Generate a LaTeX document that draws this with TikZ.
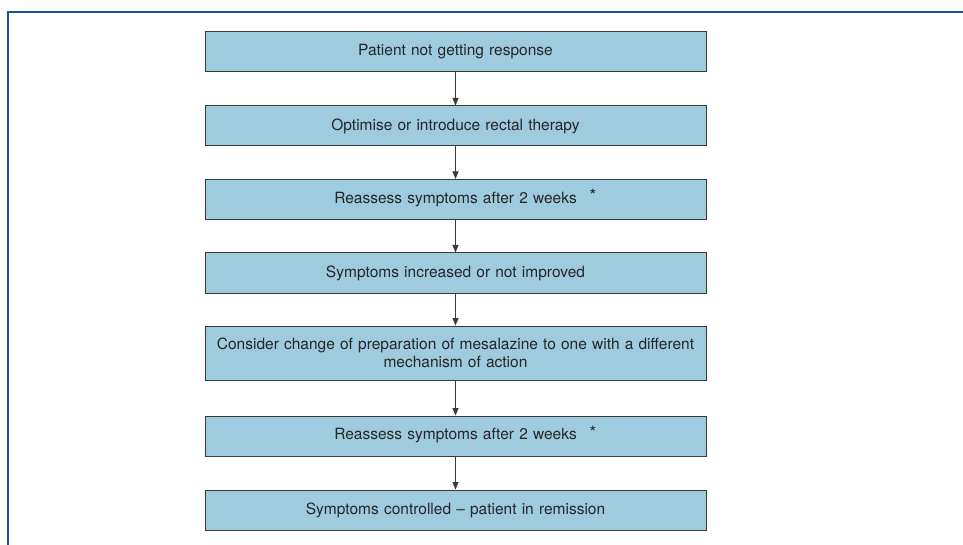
\documentclass[tikz,border=0pt]{standalone}
\usepackage{fontspec}
\setmainfont{TeX Gyre Heros}
\usetikzlibrary{arrows.meta,positioning}
\definecolor{boxfill}{HTML}{9ECBDD}
\definecolor{boxline}{HTML}{3A3A3A}
\definecolor{framecol}{HTML}{1F4FA0}
\tikzset{
  stepbox/.style={draw=boxline, line width=1pt, fill=boxfill,
                  minimum width=501pt, minimum height=40pt, inner sep=1pt,
                  text width=499pt, align=center, font=\fontsize{15.5pt}{18pt}\selectfont,
                  text=black!85},
  nxt/.style    ={-{Triangle[length=7.5pt, width=6pt]}, line width=0.9pt, boxline},
  ast/.style    ={font=\fontsize{17pt}{17pt}\selectfont, text=black!85, inner sep=0pt},
}
\begin{document}
\begin{tikzpicture}[x=1pt, y=-1pt]
  \useasboundingbox (0,0) rectangle (963,545);
  \draw[framecol, line width=1.4pt] (8,545) -- (8,12) -- (963,12);
  \node[stepbox] (resp) at (455.5,52) {Patient not getting response};
  \node[stepbox] (rect) at (455.5,126) {Optimise or introduce rectal therapy};
  \node[stepbox] (ra) at (455.5,199.5) {Reassess symptoms after 2 weeks};
  \node[stepbox] (incr) at (455.5,273) {Symptoms increased or not improved};
  \node[stepbox, minimum height=54pt] (prep) at (455.5,353)
    {Consider change of preparation of mesalazine to one with a different\\ mechanism of action};
  \node[stepbox] (rb) at (455.5,436) {Reassess symptoms after 2 weeks};
  \node[stepbox] (rem) at (455.5,510) {Symptoms controlled -- patient in remission};
  \node[ast] (asta) at (593,195) {*};
  \node[ast] (astb) at (593,432) {*};
  \draw[nxt] (resp) -- (rect);
  \draw[nxt] (rect) -- (ra);
  \draw[nxt] (ra) -- (incr);
  \draw[nxt] (incr) -- (prep);
  \draw[nxt] (prep) -- (rb);
  \draw[nxt] (rb) -- (rem);
\end{tikzpicture}
\end{document}
